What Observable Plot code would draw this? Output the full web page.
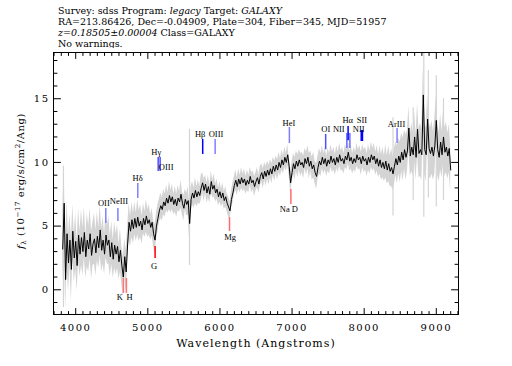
<!DOCTYPE html>
<html><head><meta charset="utf-8">
<script src="https://cdn.jsdelivr.net/npm/d3@7"></script>
<script src="https://cdn.jsdelivr.net/npm/@observablehq/plot@0.6"></script>
<style>
body{margin:0;background:#fff;width:512px;height:366px;overflow:hidden;position:relative;font-family:"DejaVu Serif",serif;}
#hdr{position:absolute;left:0;top:0;width:512px;height:48px;}
#hdr div{position:absolute;left:58px;font-size:9.5px;line-height:11px;white-space:nowrap;color:#000;}
#chart{position:absolute;left:0;top:48px;}
#chart svg [aria-label="x-axis tick label"] text{letter-spacing:1.5px;}
#chart svg [aria-label="y-axis tick label"] text{letter-spacing:1.5px;}
</style></head><body>
<div id="hdr"></div><div id="chart"></div>
<script>
// ---------- header ----------
const headerLines = [
  [["Survey: sdss Program: ", false], ["legacy", true], [" Target: ", false], ["GALAXY", true]],
  [["RA=213.86426, Dec=-0.04909, Plate=304, Fiber=345, MJD=51957", false]],
  [["z=0.18505\u00b10.00004", true], [" Class=GALAXY", false]],
  [["No warnings.", false]]
];
// ---------- spectrum: 20 A grid from 3820 A ----------
const waveStart = 3820, waveStep = 20;
const flux = [
  3.2, 6.8, 0.8, 4.4, 2.1, 3.9, 1.6, 4.6, 2.5, 3.8,
  1.9, 4.3, 2.8, 4.1, 3.0, 4.5, 2.6, 3.9, 3.2, 4.4,
  2.7, 3.6, 4.0, 2.9, 4.2, 3.3, 4.7, 3.1, 3.9, 2.8,
  4.3, 3.5, 3.9, 2.6, 3.7, 2.4, 3.5, 2.8, 3.4, 2.2,
  3.1, 1.9, 1.0, 2.6, 1.4, 3.6, 5.3, 4.6, 5.5, 4.8,
  5.6, 4.9, 5.7, 5.0, 5.4, 4.7, 5.6, 5.1, 5.8, 5.2,
  5.5, 4.9, 5.3, 4.4, 3.9, 5.0, 5.6, 6.2, 6.6, 6.3,
  6.9, 6.6, 7.2, 6.8, 7.4, 6.9, 7.3, 6.7, 7.1, 6.6,
  7.2, 6.9, 7.5, 6.8, 6.4, 7.1, 6.7, 7.0, 5.2, 7.1,
  7.6, 7.2, 7.8, 7.3, 7.7, 7.4, 8.0, 8.4, 7.8, 8.3,
  7.6, 8.1, 7.5, 8.5, 7.9, 8.2, 7.6, 7.9, 7.3, 7.7,
  7.2, 7.6, 7.0, 7.3, 6.8, 6.5, 6.2, 7.1, 7.6, 8.2,
  8.6, 8.1, 8.7, 8.3, 8.8, 8.4, 8.7, 8.2, 8.6, 8.3,
  8.9, 8.4, 8.6, 8.1, 8.5, 8.8, 8.3, 8.9, 9.2, 8.7,
  9.3, 8.9, 9.4, 9.0, 9.5, 9.1, 9.7, 9.3, 9.8, 9.4,
  10.0, 9.6, 10.2, 9.8, 10.4, 10.0, 10.6, 9.7, 8.4, 9.2,
  9.9, 9.5, 10.1, 9.7, 10.2, 9.8, 10.0, 9.6, 10.3, 9.9,
  10.4, 9.7, 10.1, 9.5, 9.8, 9.2, 8.9, 9.6, 10.1, 9.8,
  10.4, 9.9, 10.3, 9.7, 10.2, 9.9, 10.5, 10.0, 10.3, 9.8,
  10.4, 10.0, 10.6, 10.1, 10.3, 9.9, 10.5, 10.2, 10.8, 10.1,
  10.4, 9.9, 10.3, 10.0, 10.6, 10.2, 10.4, 9.9, 10.5, 10.1,
  10.3, 9.8, 10.4, 10.0, 10.6, 10.2, 10.5, 9.9, 10.3, 9.7,
  10.2, 9.6, 10.0, 9.5, 10.1, 9.4, 9.9, 9.3, 9.6, 9.1,
  9.7, 10.3, 9.8, 10.5, 10.0, 10.8, 10.2, 11.0, 10.4, 10.9,
  12.7, 10.5, 11.2, 10.6, 12.0, 10.4, 12.6, 10.7, 11.0, 10.6,
  15.3, 11.0, 10.6, 13.4, 11.1, 10.7, 11.2, 10.5, 11.3, 13.3,
  11.0, 10.4, 11.6, 10.6, 12.0, 10.8, 11.2, 10.5, 11.1, 9.4
];
const fluxErr = [
  2.8, 3.0, 2.3, 2.6, 2.3, 2.0, 2.5, 2.1, 1.9, 2.2,
  2.0, 2.1, 1.8, 2.2, 1.9, 2.0, 1.7, 2.1, 1.8, 2.0,
  1.9, 1.7, 2.0, 1.8, 1.9, 1.6, 2.0, 1.7, 1.9, 1.6,
  1.8, 1.5, 1.9, 1.6, 1.7, 1.5, 1.8, 1.6, 1.7, 1.4,
  1.7, 1.5, 1.6, 1.4, 1.7, 1.3, 1.5, 1.2, 1.4, 1.2,
  1.3, 1.1, 1.4, 1.2, 1.3, 1.1, 1.2, 1.0, 1.3, 1.1,
  1.2, 1.0, 1.1, 1.0, 1.2, 1.0, 1.1, 0.9, 1.0, 0.9,
  1.0, 0.9, 1.0, 0.8, 1.1, 0.9, 1.0, 0.8, 1.0, 0.9,
  1.0, 0.8, 1.1, 0.9, 1.0, 0.8, 0.9, 1.1, 1.5, 1.0,
  0.9, 0.8, 1.0, 0.8, 0.9, 0.7, 1.0, 0.8, 0.9, 0.7,
  0.8, 0.9, 0.7, 0.8, 0.7, 0.9, 0.7, 0.8, 0.7, 0.8,
  0.7, 0.8, 0.7, 0.8, 0.7, 0.8, 0.7, 0.7, 0.8, 0.7,
  0.8, 0.7, 0.8, 0.7, 0.8, 0.7, 0.8, 0.7, 0.8, 0.7,
  0.7, 0.8, 0.7, 0.8, 0.7, 0.8, 0.7, 0.8, 0.7, 0.8,
  0.7, 0.8, 0.7, 0.8, 0.7, 0.8, 0.7, 0.8, 0.7, 0.8,
  0.8, 0.7, 0.8, 0.7, 0.8, 0.7, 0.8, 0.7, 0.9, 0.8,
  0.8, 0.9, 0.8, 0.9, 0.8, 0.9, 0.8, 0.9, 0.8, 0.9,
  0.9, 1.0, 0.8, 0.9, 1.0, 0.9, 1.0, 0.9, 1.0, 0.9,
  0.9, 0.8, 0.9, 0.8, 0.9, 0.8, 0.9, 0.8, 0.9, 0.8,
  0.9, 0.8, 0.9, 0.8, 0.9, 0.8, 0.9, 0.8, 0.9, 0.8,
  0.9, 0.8, 0.9, 0.8, 0.9, 0.8, 0.9, 0.9, 0.9, 0.9,
  0.9, 0.9, 1.0, 0.9, 1.0, 0.9, 1.0, 0.9, 1.0, 0.9,
  1.1, 1.0, 1.2, 1.0, 1.3, 1.1, 1.4, 1.2, 1.5, 1.3,
  1.4, 1.3, 1.5, 1.4, 1.6, 1.5, 1.7, 1.5, 1.8, 1.6,
  1.7, 1.6, 1.9, 1.7, 2.0, 1.8, 2.0, 1.9, 2.1, 2.0,
  2.2, 2.0, 2.1, 1.9, 2.2, 2.0, 2.1, 1.9, 2.2, 2.0,
  2.1, 1.9, 2.2, 1.8, 2.1, 1.9, 2.0, 1.8, 1.9, 1.8
];
// isolated noise spikes (sky lines etc.)
const spikeWave = [3830, 5578, 8400, 8680, 8827, 8890, 9000, 9100];
const spikeLo   = [-1.4, 1.9, 5.8, 7.0, 5.7, 7.2, 6.5, 7.0];
const spikeHi   = [9.7, 12.6, 13.5, 14.3, 19.0, 17.2, 16.8, 15.0];
// ---------- line identifications ----------
const redshift = 0.18505;
const lineNames = ["OII","NeIII","H\u03b4","H\u03b3","OIII","H\u03b2","OIII","HeI","OI","NII","H\u03b1","NII","SII","","ArIII","K","H","G","Mg","Na D"];
const lineRest  = [3727.4,3869.0,4101.7,4340.5,4363.2,4861.3,5006.8,5875.6,6300.3,6548.0,6562.8,6583.4,6716.4,6730.8,7135.8,3933.7,3968.5,4304.4,5175.0,5893.0];
const lineKind  = ["em","em","em","em","em","em","em","em","em","em","em","em","em","em","em","abs","abs","abs","abs","abs"];
const lineStrength = [0.35,0.35,0.35,0.6,0.6,1,0.35,0.35,0.6,0.45,1,0.45,1,1,0.35,0.4,0.4,1,0.45,0.45];
const markerLo  = [5.2,5.36,7.17,9.28,9.28,10.62,10.62,11.48,11.0,11.09,11.7,11.09,11.64,11.64,11.48,-0.29,-0.29,2.46,4.58,6.7];
const markerHi  = [6.38,6.38,8.34,10.38,10.38,11.8,11.8,12.74,12.19,12.27,12.82,12.27,12.5,12.5,12.66,0.89,0.89,3.4,5.67,7.87];
const labelWave = [4390,4600,4858,5116,5254,5725,5946,6956,7468,7648,7772,7925,7968,7968,8449,4610,4745,5088,6140,6956];
const labelFlux = [6.77,6.93,8.74,10.78,9.6,12.19,12.19,13.05,12.58,12.58,13.29,12.58,13.29,13.29,12.97,-0.55,-0.55,1.83,4.1,6.3];
// ---------- axes ----------
const xDomain = [3692, 9308];
const yDomain = [-1.94, 18.63];
const xMajor = [4000, 5000, 6000, 7000, 8000, 9000];
const xMinor = d3.range(3700, 9301, 100).filter(v => v % 1000 !== 0);
const yMajor = [0, 5, 10, 15];
const yMinor = d3.range(-1, 19, 1).filter(v => v % 5 !== 0);
const xLabel = "Wavelength (Angstroms)";

// header
const hdr = document.getElementById("hdr");
headerLines.forEach((segs, i) => {
  const div = document.createElement("div");
  div.style.top = (4.5 + i * 11.2) + "px";
  segs.forEach(([t, it]) => {
    const s = document.createElement(it ? "i" : "span");
    s.textContent = t;
    div.appendChild(s);
  });
  hdr.appendChild(div);
});

const spec = flux.map((f, i) => ({w: waveStart + waveStep * i, f, lo: f - fluxErr[i], hi: f + fluxErr[i]}));
const spikes = spikeWave.map((w, i) => ({w, lo: spikeLo[i], hi: spikeHi[i]}));
const blueC = d3.interpolateRgb("#c4c4ff", "#0000ff");
const redC = d3.interpolateRgb("#ffc4c4", "#ff0000");
const lines = lineNames.map((name, i) => ({
  name, w: lineRest[i] * (1 + redshift), lo: markerLo[i], hi: markerHi[i],
  lw: labelWave[i], lf: labelFlux[i],
  color: lineKind[i] === "em" ? blueC(lineStrength[i]) : redC(lineStrength[i])
}));

// inward tick marks drawn as vectors anchored on the frame
const tickShape = {draw(context, l) { context.moveTo(0, 0); context.lineTo(0, -l); }};
const ticks = (data, side, len) => {
  const rot = {bottom: 0, top: 180, left: 90, right: -90}[side];
  const ch = (side === "bottom" || side === "top") ? {x: d => d} : {y: d => d};
  return Plot.vector(data, {...ch, frameAnchor: side, length: len, rotate: rot, anchor: "start", shape: tickShape, stroke: "black", strokeWidth: 1});
};

const chart = Plot.plot({
  width: 512, height: 318,
  marginLeft: 53, marginRight: 54, marginTop: 4, marginBottom: 52,
  x: {domain: xDomain},
  y: {domain: yDomain},
  style: {fontFamily: "DejaVu Serif", fontSize: "10px", background: "white", color: "black", overflow: "visible"},
  marks: [
    Plot.areaY(spec, {x: "w", y1: "lo", y2: "hi", fill: "#d4d4d4", clip: true}),
    Plot.ruleX(spikes, {x: "w", y1: "lo", y2: "hi", stroke: "#d4d4d4", strokeWidth: 1.2, clip: true}),
    Plot.lineY(spec, {x: "w", y: "f", stroke: "black", strokeWidth: 1, clip: true}),
    Plot.ruleX(lines, {x: "w", y1: "lo", y2: "hi", stroke: "color", strokeWidth: 1.5}),
    Plot.text(lines, {x: "lw", y: "lf", text: "name", fontSize: 8.5, fontFamily: "Liberation Serif", fill: "black"}),
    Plot.frame({stroke: "black"}),
    ticks(xMajor, "bottom", 6), ticks(xMajor, "top", 6),
    ticks(xMinor, "bottom", 3), ticks(xMinor, "top", 3),
    ticks(yMajor, "left", 7), ticks(yMajor, "right", 7),
    ticks(yMinor, "left", 3.5), ticks(yMinor, "right", 3.5),
    Plot.axisX(xMajor, {anchor: "bottom", tickSize: 0, tickPadding: 9, tickFormat: d => String(d), label: null}),
    Plot.axisY(yMajor, {anchor: "left", tickSize: 0, tickPadding: 4, tickFormat: d => String(d), label: null}),
    Plot.text([xLabel], {frameAnchor: "bottom", dy: 29, text: d => d, lineAnchor: "middle", fontSize: 11})
  ]
});
document.getElementById("chart").appendChild(chart);
d3.select(chart).selectAll('[aria-label="text"] text').filter(function() { return this.textContent === xLabel; }).attr("letter-spacing", "1px");

// y-axis label with sub/superscripts
const svg = d3.select(chart);
const yl = svg.append("text")
  .attr("transform", "translate(20,133) rotate(-90)")
  .attr("text-anchor", "middle")
  .attr("font-family", "DejaVu Serif")
  .attr("font-size", 10)
  .attr("letter-spacing", "0.6px")
  .attr("dy", "0.35em");
yl.append("tspan").attr("font-style", "italic").text("f");
yl.append("tspan").attr("font-size", 7).attr("dy", 2).text("\u03bb");
yl.append("tspan").attr("dy", -2).text(" (10");
yl.append("tspan").attr("font-size", 7).attr("dy", -4).text("\u221217");
yl.append("tspan").attr("dy", 4).text(" erg/s/cm");
yl.append("tspan").attr("font-size", 7).attr("dy", -4).text("2");
yl.append("tspan").attr("dy", 4).text("/Ang)");
</script></body></html>
